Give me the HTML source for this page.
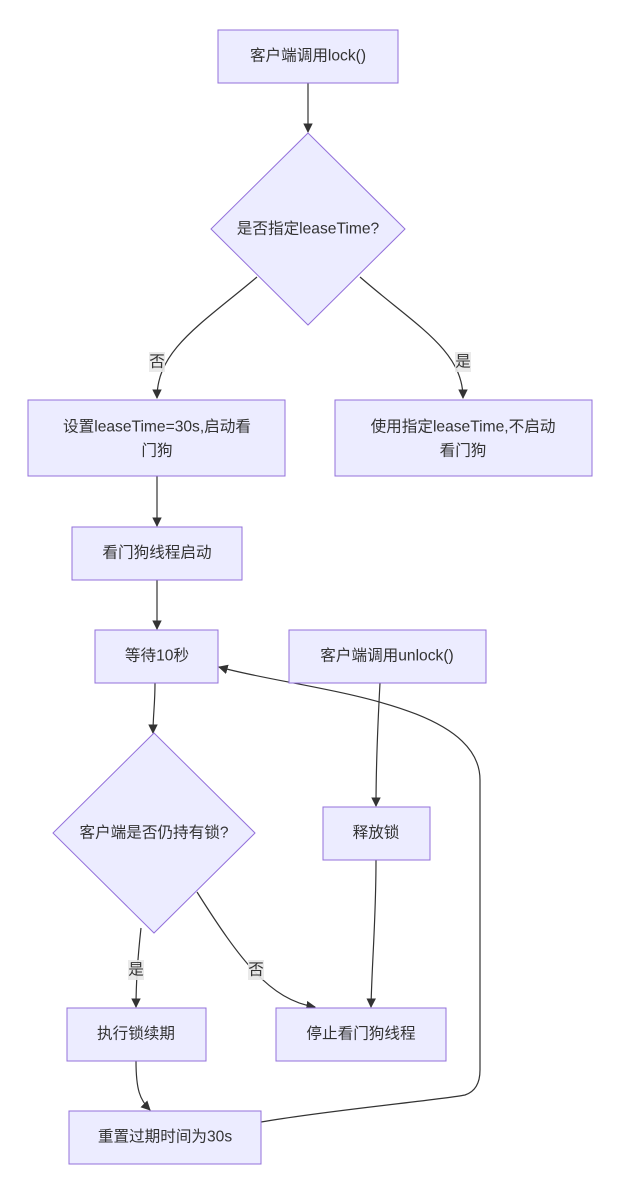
<!DOCTYPE html>
<html><head><meta charset="utf-8"><style>
body{margin:0;background:#fff;}
svg text{font-family:"Liberation Sans","Noto Sans CJK SC",sans-serif;font-size:15.6px;fill:#333;text-anchor:middle;dominant-baseline:central;}
.n{fill:#ECECFF;stroke:#9370DB;stroke-width:1;}
.e{fill:none;stroke:#333;stroke-width:1.2;}
.lb{fill:#e8e8e8;opacity:0.9;}
</style></head><body>
<svg width="620" height="1194" viewBox="0 0 620 1194" xmlns="http://www.w3.org/2000/svg">
<defs><marker id="a" viewBox="0 0 10 10" refX="9" refY="5" markerWidth="8" markerHeight="8" orient="auto"><path d="M0,0L10,5L0,10z" fill="#333"/></marker></defs>
<path class="e" marker-end="url(#a)" d="M308,83L308,132"/>
<path class="e" marker-end="url(#a)" d="M257,277C200,325 157,350 157,398"/>
<path class="e" marker-end="url(#a)" d="M360,277C415,325 463,350 463,398"/>
<path class="e" marker-end="url(#a)" d="M157,476L157,526"/>
<path class="e" marker-end="url(#a)" d="M157,580L157,629"/>
<path class="e" marker-end="url(#a)" d="M155,683C155,705 153,715 153,733"/>
<path class="e" marker-end="url(#a)" d="M141,928C138,955 136,980 136,1007"/>
<path class="e" marker-end="url(#a)" d="M197,892C240,960 270,1000 315,1007"/>
<path class="e" marker-end="url(#a)" d="M380,683C378,720 376,760 376,806"/>
<path class="e" marker-end="url(#a)" d="M376,860C376,920 372,960 371,1007"/>
<path class="e" marker-end="url(#a)" d="M136,1061C136,1090 140,1100 150,1110"/>
<path class="e" marker-end="url(#a)" d="M261,1122C330,1110 440,1100 465,1095Q480,1090 480,1070L480,780C480,700 300,690 219,667"/>
<rect class="lb" x="149" y="352" width="16" height="20"/><text x="157" y="362">否</text>
<rect class="lb" x="455" y="352" width="16" height="20"/><text x="463" y="362">是</text>
<rect class="lb" x="128" y="960" width="16" height="20"/><text x="136" y="970">是</text>
<rect class="lb" x="248" y="960" width="16" height="20"/><text x="256" y="970">否</text>
<rect class="n" x="218" y="30" width="180" height="53"/><text x="308" y="56">客户端调用lock()</text>
<polygon class="n" points="308,133 405,229 308,325 211,229"/><text x="308" y="229">是否指定leaseTime?</text>
<rect class="n" x="28" y="400" width="257" height="76"/><text x="157" y="427">设置leaseTime=30s,启动看</text><text x="157" y="451">门狗</text>
<rect class="n" x="335" y="400" width="257" height="76"/><text x="463" y="427">使用指定leaseTime,不启动</text><text x="463" y="451">看门狗</text>
<rect class="n" x="72" y="527" width="170" height="53"/><text x="157" y="553">看门狗线程启动</text>
<rect class="n" x="95" y="630" width="123" height="53"/><text x="157" y="656">等待10秒</text>
<rect class="n" x="289" y="630" width="197" height="53"/><text x="387" y="656">客户端调用unlock()</text>
<polygon class="n" points="154,733 255,833 154,933 53,833"/><text x="154" y="833">客户端是否仍持有锁?</text>
<rect class="n" x="323" y="807" width="107" height="53"/><text x="376" y="833">释放锁</text>
<rect class="n" x="67" y="1008" width="139" height="53"/><text x="136" y="1034">执行锁续期</text>
<rect class="n" x="276" y="1008" width="170" height="53"/><text x="361" y="1034">停止看门狗线程</text>
<rect class="n" x="69" y="1111" width="192" height="53"/><text x="165" y="1137">重置过期时间为30s</text>
</svg>
</body></html>
